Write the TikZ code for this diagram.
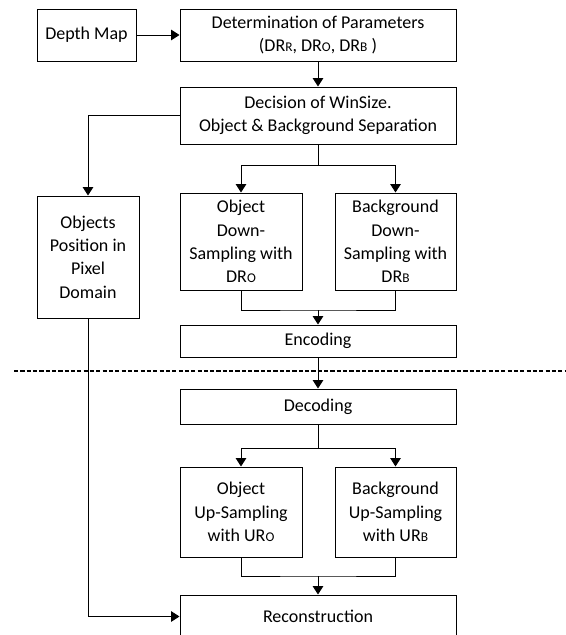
\documentclass[tikz,border=0pt]{standalone}
\usepackage{fontspec}
\setmainfont{Carlito}
\usetikzlibrary{arrows.meta}

\newcommand{\smallcap}[1]{{\fontsize{9.5}{10}\selectfont #1}}

\tikzset{
  block/.style={draw,rectangle,line width=0.7pt,align=center,inner sep=0pt,
    font=\fontsize{12.8}{16.6}\selectfont},
  boxsize/.style 2 args={minimum width=#1*0.025cm,minimum height=#2*0.025cm},
  arr/.style={-{Triangle[length=6pt,width=7.5pt]},line width=0.7pt},
  wire/.style={line width=0.7pt}
}

\begin{document}
\begin{tikzpicture}[x=0.025cm,y=-0.025cm]
                \useasboundingbox (0,0) rectangle (565,635);

                % encoder side
                \node[block,boxsize={99}{52}] (depth) at (86.5,35) {Depth Map};
                \node[block,boxsize={276}{52}] (param) at (318,35)
                    {Determination of Parameters\\(DR\smallcap{R}, DR\smallcap{O}, DR\smallcap{B} )};
                \node[block,boxsize={276}{57}] (decision) at (318,115.5)
                    {Decision of WinSize.\\Object \& Background Separation};
                \node[block,boxsize={102}{122}] (objpos) at (88,257)
                    {Objects\\Position in\\Pixel\\Domain};
                \node[block,boxsize={122}{97}] (objdown) at (241,241.5)
                    {Object\\Down-\\Sampling with\\DR\smallcap{O}};
                \node[block,boxsize={121}{97}] (bgdown) at (395.5,241.5)
                    {Background\\Down-\\Sampling with\\DR\smallcap{B}};
                \node[block,boxsize={276}{32}] (encoding) at (318,341) {Encoding};

                % decoder side
                \node[block,boxsize={276}{35}] (decoding) at (318,406.5) {Decoding};
                \node[block,boxsize={122}{90}] (objup) at (241,512)
                    {Object\\Up-Sampling\\with UR\smallcap{O}};
                \node[block,boxsize={121}{90}] (bgup) at (395.5,512)
                    {Background\\Up-Sampling\\with UR\smallcap{B}};
                \node[block,boxsize={276}{43}] (recon) at (318,616.5) {Reconstruction};

                \coordinate (split1) at (318,165);
                \coordinate (join1) at (318,310);
                \coordinate (split2) at (318,448);
                \coordinate (join2) at (318,576);
                \coordinate (cutl) at (14,371);
                \coordinate (cutr) at (565,371);

                \draw[arr] (depth) -- (param);
                \draw[arr] (param) -- (decision);
                \draw[arr] (decision.west) -| (objpos.north);
                \draw[wire] (decision) -- (split1);
                \draw[arr] (split1) -| (objdown.north);
                \draw[arr] (split1) -| (bgdown.north);
                \draw[wire] (objdown.south) |- (join1) -| (bgdown.south);
                \draw[arr] (join1) -- (encoding);

                \draw[line width=0.9pt,dash pattern=on 3pt off 1.5pt] (cutl) -- (cutr);

                \draw[arr] (encoding) -- (decoding);
                \draw[wire] (decoding) -- (split2);
                \draw[arr] (split2) -| (objup.north);
                \draw[arr] (split2) -| (bgup.north);
                \draw[wire] (objup.south) |- (join2) -| (bgup.south);
                \draw[arr] (join2) -- (recon);
                \draw[arr] (objpos.south) |- (recon.west);
\end{tikzpicture}
\end{document}
